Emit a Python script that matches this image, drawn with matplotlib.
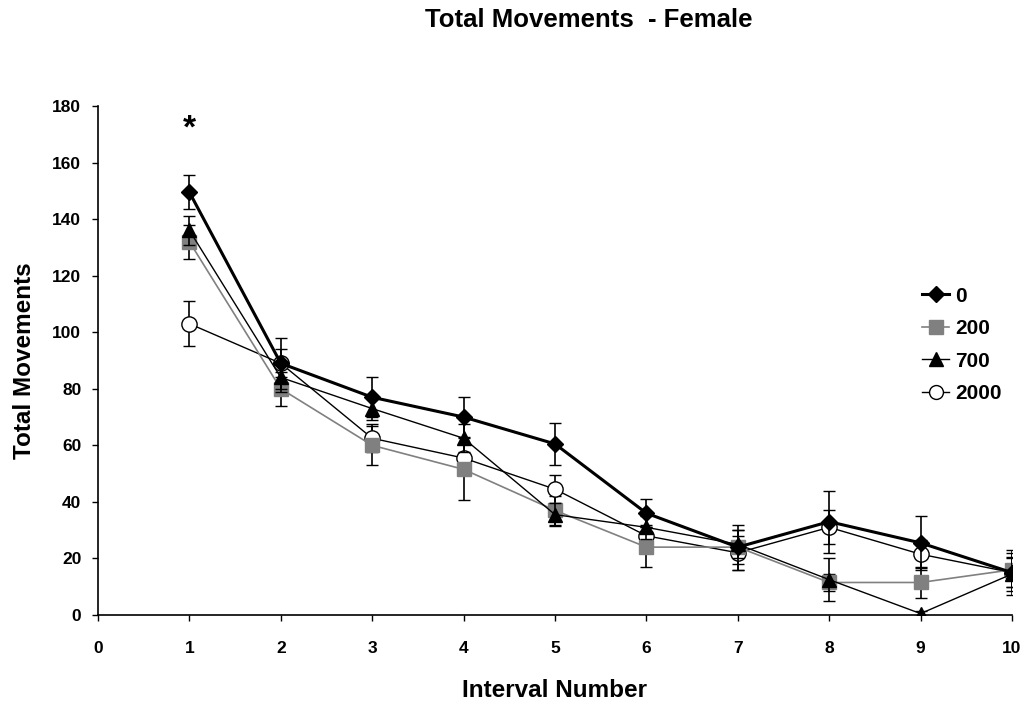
import matplotlib
matplotlib.use("Agg")
import matplotlib.pyplot as plt
from matplotlib.lines import Line2D

plt.rcParams['font.family'] = ['Liberation Sans', 'DejaVu Sans']
plt.rcParams['font.weight'] = 'bold'

intervals = [1, 2, 3, 4, 5, 6, 7, 8, 9, 10]
s0 = [149.5, 89, 77, 70, 60.5, 36, 24, 33, 25.5, 15]
e0 = [6, 9, 7, 7, 7.5, 5, 8, 11, 9.5, 8]
s200 = [132, 80, 60, 51.5, 37, 24, 24, 11.5, 11.5, 16]
e200 = [6, 6, 7, 11, 5, 7, 6, 3, 5.5, 6]
s700 = [136, 84, 73, 62.5, 35.5, 31, 25, 12.5, 0.5, 14.5]
e700 = [5, 5, 4, 5, 4, 4, 5, 7.5, 1, 6]
s2000 = [103, 89, 62.5, 55.5, 44.5, 28, 22, 31, 21.5, 15]
e2000 = [8, 5, 5, 5, 5, 4, 6, 6, 5, 5]
labels = ['0', '200', '700', '2000']

fig = plt.figure(figsize=(10.27, 7.04), dpi=100)
ax = fig.add_axes([98/1027, 89/704, (1012-98)/1027, (615-106)/704])

ax.errorbar(intervals, s2000, yerr=e2000, color='black', lw=1.0, marker='o', ms=11,
            mfc='white', mec='black', mew=1.0, capsize=4, elinewidth=1.2, label=labels[3], zorder=3)
ax.errorbar(intervals, s700, yerr=e700, color='black', lw=1.0, marker='^', ms=10,
            mfc='black', mec='black', capsize=4, elinewidth=1.2, label=labels[2], zorder=4)
ax.errorbar(intervals, s200, yerr=e200, color='#808080', lw=1.2, marker='s', ms=10,
            mfc='#808080', mec='#808080', ecolor='black', capsize=4, elinewidth=1.2, label=labels[1], zorder=3)
ax.errorbar(intervals, s0, yerr=e0, color='black', lw=2.2, marker='D', ms=8.5,
            mfc='black', mec='black', capsize=4, elinewidth=1.2, label=labels[0], zorder=5)

ax.set_xlim(0, 10)
ax.set_ylim(0, 180)
ax.set_xticks(range(0, 11))
ax.set_yticks(range(0, 181, 20))
ax.spines['top'].set_visible(False)
ax.spines['right'].set_visible(False)
ax.spines['left'].set_linewidth(1.2)
ax.spines['bottom'].set_linewidth(1.2)
ax.tick_params(axis='both', direction='out', length=4, width=1, labelsize=12.5)
for lab in ax.get_xticklabels() + ax.get_yticklabels():
    lab.set_fontweight('bold')
ax.tick_params(axis='x', pad=15)
ax.tick_params(axis='y', pad=8)

ax.set_xlabel('Interval Number', fontsize=17.5, fontweight='bold', labelpad=16)
ax.set_ylabel('Total Movements', fontsize=17.5, fontweight='bold', labelpad=12)

ax.text(1, 172, '*', ha='center', va='center', fontsize=24, fontweight='bold')

fig.text(589/1027, 1 - 20/704, 'Total Movements  - Female', ha='center', va='center',
         fontsize=18.5, fontweight='bold')

h = [
    Line2D([], [], color='black', lw=2.2, marker='D', ms=8.5, mfc='black'),
    Line2D([], [], color='#808080', lw=1.2, marker='s', ms=10, mfc='#808080', mec='#808080'),
    Line2D([], [], color='black', lw=1.0, marker='^', ms=10, mfc='black'),
    Line2D([], [], color='black', lw=1.0, marker='o', ms=10, mfc='white', mec='black'),
]
leg = ax.legend(h, labels, loc='upper left', bbox_to_anchor=(0.881, 0.682), frameon=False,
                prop={'weight': 'bold', 'size': 15}, handlelength=1.3, handletextpad=0.3,
                labelspacing=0.65)

fig.savefig('out.png', dpi=100)
